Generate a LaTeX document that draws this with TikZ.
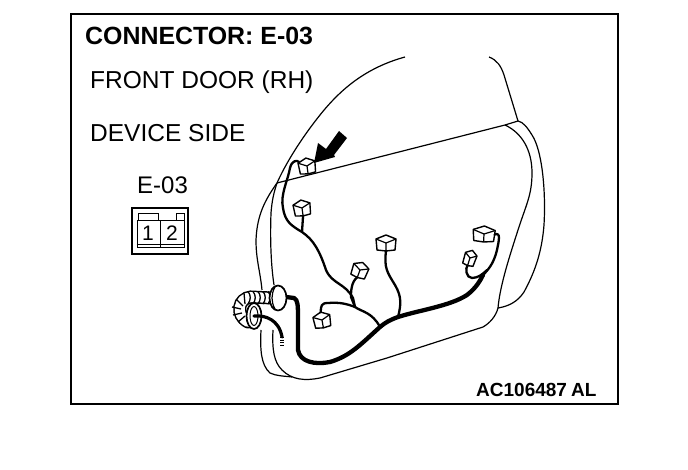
\documentclass[tikz,border=0pt]{standalone}
\usepackage{fontspec}
\setmainfont{Liberation Sans}
\usetikzlibrary{shapes.geometric}
\tikzset{
  title/.style={anchor=base west,inner sep=0pt,font=\fontsize{24.5}{24.5}\selectfont},
  boldtitle/.style={title,font=\fontsize{24.9}{24.9}\selectfont\bfseries},
  code/.style={anchor=base west,inner sep=0pt,font=\fontsize{19}{19}\selectfont\bfseries},
  digit/.style={inner sep=0pt,font=\fontsize{21}{21}\selectfont},
  plug/.style={minimum height=15pt,inner sep=0pt},
  doorline/.style={line width=1.2pt},
  harness/.style={line width=2.3pt,line cap=round,line join=round},
  mainwire/.style={line width=4.3pt,line cap=round,line join=round},
  pin/.style={draw,fill=white,minimum height=27pt,inner sep=0pt,line width=1pt},
  grommet/.style={draw,ellipse,fill=white,line width=1.7pt,inner sep=0pt}
}
% name, position, rotation, width factor
\newcommand{\plugbox}[4]{%
  \node[plug,rotate=#3,minimum width=#4*19pt] (#1) at (#2) {};
  \begin{scope}[shift={(#2)},rotate=#3,xscale=#4,line width=1.4pt,line join=round]
    \draw[fill=white] (-10,-4) -- (0,-8) -- (10,-4) -- (9,7) -- (0,8) -- (-9,7) -- cycle;
    \draw[line width=1.2pt] (-10,-4) -- (0,0) -- (10,-4) (0,0) -- (0,8);
  \end{scope}
}
\begin{document}
\begin{tikzpicture}[x=1pt,y=-1pt]
  \useasboundingbox (0,0) rectangle (688,470);
  \draw[line width=1.4pt] (71,14) rectangle (618,404);
  % labels
  \node[boldtitle] (heading) at (85,45) {CONNECTOR: E-03};
  \node[title] (door) at (90,89) {FRONT DOOR (RH)};
  \node[title] (side) at (90,142) {DEVICE SIDE};
  \node[title,font=\fontsize{24}{24}\selectfont] (ecode) at (137,194) {E-03};
  \node[code] (ac) at (476,396) {AC106487};
  \node[code] (al) at (571,396) {AL};
  % connector symbol
  \draw[line width=2pt] (132,208) rectangle (188,254);
  \draw[line width=1pt] (138,221) |- (158,214) -- (158,221);
  \draw[line width=1pt] (176,221) |- (184,214) -- (184,221);
  \node[pin,minimum width=23pt] (pin1) at (148.5,234.5) {};
  \node[pin,minimum width=24pt] (pin2) at (172,234.5) {};
  \node[digit] (one) at (148,233) {1};
  \node[digit] (two) at (172,233) {2};
  \draw[line width=1pt] (pin1.west |- 0,245) -- (pin2.east |- 0,245);
  % door
  \begin{scope}[doorline]
    \draw (405,57) .. controls (365,68) and (340,90) .. (320,115)
      .. controls (300,140) and (285,165) .. (277,183)
      .. controls (265,200) and (257,215) .. (256,240)
      .. controls (256,260) and (260,270) .. (262,290);
    \draw (261,330) .. controls (260,350) and (261,365) .. (270,373)
      .. controls (276,376) and (284,376) .. (292,377);
    \draw (271,213) .. controls (270,240) and (271,265) .. (274,285);
    \draw (271,213) .. controls (272,200) and (274,192) .. (277,183);
    \draw (273,330) .. controls (272,350) and (274,362) .. (282,370)
      .. controls (292,380) and (305,381) .. (320,378)
      -- (387,358) -- (483,327)
      .. controls (490,323) and (496,316) .. (498,308)
      .. controls (500,285) and (510,255) .. (518,230)
      .. controls (526,205) and (532,195) .. (532,173)
      .. controls (532,150) and (522,133) .. (505,125);
    \draw (498,308) .. controls (510,306) and (518,301) .. (524,292)
      .. controls (536,270) and (542,250) .. (544,225)
      .. controls (546,190) and (542,150) .. (532,135)
      .. controls (527,127) and (523,122) .. (518,121);
    \draw (277,183) -- (505,125) -- (518,121);
    \draw (489,57) .. controls (497,60) and (501,66) .. (504,75) -- (518,121);
  \end{scope}
  % harness
  \coordinate (joinA) at (355,307);
  \coordinate (joinB) at (380,327);
  \coordinate (joinC) at (398,317);
  \coordinate (joinD) at (302,232);
  \coordinate (joinE) at (483,275);
  \draw[harness] (299,162) .. controls (297,160) and (292,160) .. (290,168)
    .. controls (288,180) and (280,195) .. (283,208)
    .. controls (285,222) and (292,226) .. (joinD)
    .. controls (314,240) and (320,252) .. (326,270)
    .. controls (332,284) and (345,283) .. (353,298)
    -- (joinA) .. controls (362,312) and (372,312) .. (joinB);
  \plugbox{plugA}{307,166}{8}{0.85}
  \plugbox{plugB}{302,208}{8}{0.85}
  \plugbox{plugC}{386,243}{0}{1}
  \plugbox{plugD}{360,270}{-20}{0.8}
  \plugbox{plugE}{322,320}{10}{0.85}
  \plugbox{plugF}{484,234}{-3}{1.1}
  \plugbox{plugG}{470,258}{-18}{0.6}
  \draw[harness] (plugB.south) -- (joinD);
  \draw[harness] (plugD.south) .. controls (351,282) and (351,292) .. (351,297) -- (joinA);
  \draw[harness] (plugE.north) .. controls (321,306) and (321,303) .. (328,303)
    .. controls (340,302) and (347,304) .. (joinA);
  \draw[harness] (plugC.south) .. controls (384,268) and (387,272) .. (395,285)
    .. controls (402,297) and (401,305) .. (joinC);
  \draw[harness] (plugF.east) .. controls (501,232) and (499,240) .. (497,250)
    .. controls (494,262) and (490,268) .. (joinE);
  \draw[harness] (plugG.south) .. controls (465,268) and (466,278) .. (472,278)
    .. controls (478,278) and (483,274) .. (487,270);
  % arrow
  \fill (314,163) -- (318,143) -- (326,149) -- (339,131) -- (347,138) -- (334,155) -- (335,157) -- cycle;
  % main wire
  \coordinate (gromA) at (286,297);
  \draw[mainwire] (gromA) -- (294,298) .. controls (298,300) and (298,305) .. (298,320)
    -- (298,350) .. controls (300,362) and (315,365) .. (330,362)
    .. controls (350,356) and (360,345) .. (joinB)
    .. controls (386,322) and (390,320) .. (joinC)
    .. controls (420,310) and (450,306) .. (467,295)
    .. controls (476,288) and (480,281) .. (joinE);
  % corrugated tube
  \draw[line width=13pt,line cap=round] (272,298) -- (251,297) .. controls (238,298) and (235,315) .. (248,322);
  \draw[white,line width=10pt,line cap=round] (272,298) -- (251,297) .. controls (238,298) and (235,315) .. (248,322);
  \foreach \ribx in {248,253,258,263,268}
    \draw[line width=1.3pt] (\ribx,291.5) .. controls (\ribx+3,295) and (\ribx+3,300) .. (\ribx,304);
  \draw[line width=1.3pt] (244,293) -- (245,304);
  \draw[line width=1.3pt] (236,299) -- (243,306);
  \draw[line width=1.3pt] (232,307) -- (241,309);
  \draw[line width=1.3pt] (233,315) -- (242,313);
  \draw[line width=1.3pt] (238,322) -- (245,316);
  \node[grommet,minimum width=17pt,minimum height=25pt] (gromB) at (278,298) {};
  \draw[line width=1.2pt] (275,287) .. controls (271,294) and (271,302) .. (275,309);
  \node[grommet,minimum width=15pt,minimum height=26pt] (gromC) at (254,316) {};
  \node[draw,fill=white,ellipse,minimum width=8pt,minimum height=19pt,inner sep=0pt,line width=1pt] (gromD) at (254,316) {};
  \coordinate (wireEnd) at (282,337);
  \draw[line width=3.2pt,line cap=round] (gromD.center) .. controls (266,315) and (279,320) .. (wireEnd);
  \draw[line width=3.4pt,dash pattern=on 1.2pt off 1.4pt] (wireEnd) -- (282,347);
\end{tikzpicture}
\end{document}
